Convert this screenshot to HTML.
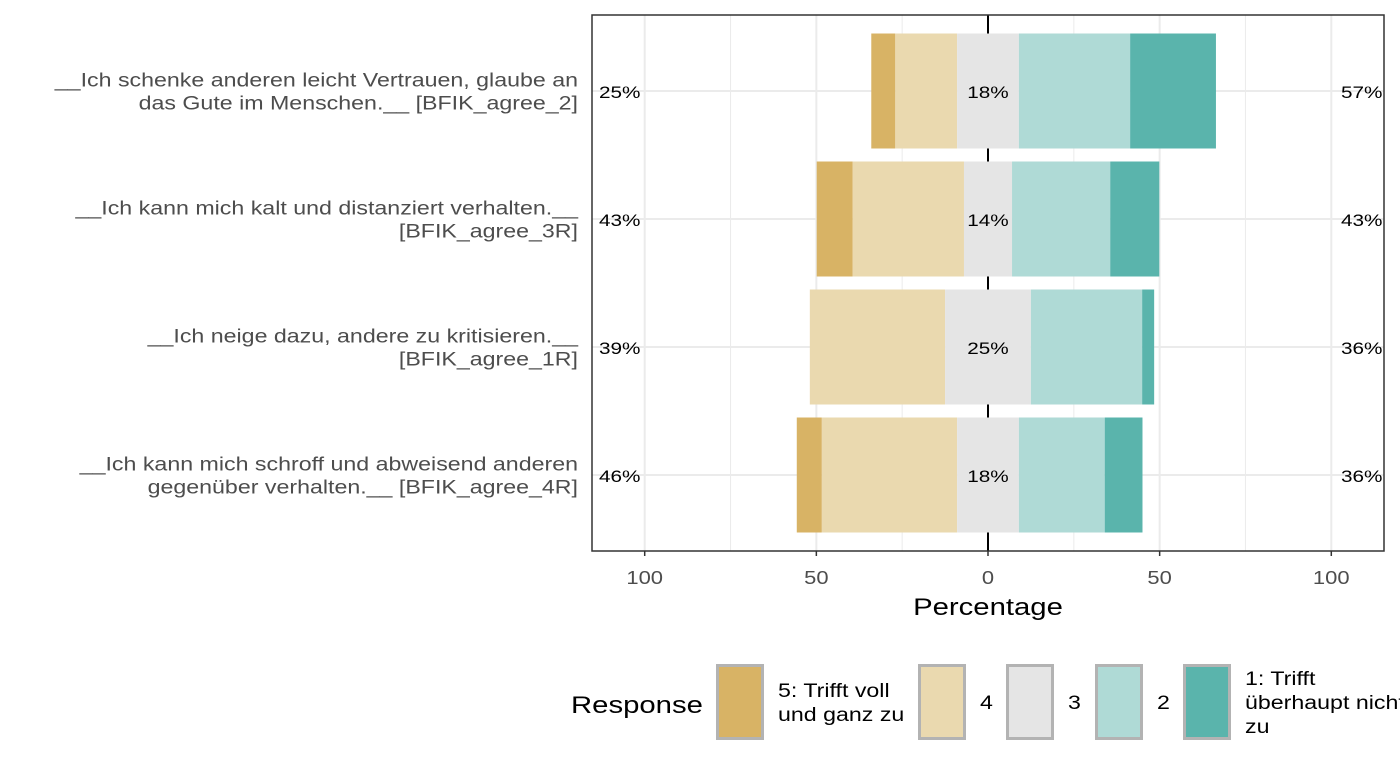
<!DOCTYPE html>
<html><head><meta charset="utf-8"><style>
body{margin:0;background:#fff;width:1400px;height:768px;overflow:hidden;font-family:"Liberation Sans",sans-serif;}
</style></head><body>
<svg id="chart" width="1400" height="768" xmlns="http://www.w3.org/2000/svg" font-family="Liberation Sans, sans-serif">
</svg>
<script>
const items=["__Ich schenke anderen leicht Vertrauen, glaube an|das Gute im Menschen.__ [BFIK_agree_2]",
"__Ich kann mich kalt und distanziert verhalten.__|[BFIK_agree_3R]",
"__Ich neige dazu, andere zu kritisieren.__|[BFIK_agree_1R]",
"__Ich kann mich schroff und abweisend anderen|gegenüber verhalten.__ [BFIK_agree_4R]"];
const r5=[7,10.5,0,7.3];
const r4=[18,32.4,39.4,39.4];
const r3=[18,14,25,18];
const r2=[32.4,28.6,32.4,25];
const r1=[25,14.3,3.5,11];
const leftLabels=["25%","43%","39%","46%"];
const midLabels=["18%","14%","25%","18%"];
const rightLabels=["57%","43%","36%","36%"];
const ticks=[-100,-50,0,50,100];
const tickLabels=["100","50","0","50","100"];
const minor=[-75,-25,25,75];
const colors=["#D8B365","#EAD9AF","#E5E5E5","#AFDAD6","#5AB4AC"];
const legendLabels=["5: Trifft voll|und ganz zu","4","3","2","1: Trifft|überhaupt nicht|zu"];

const svg=document.getElementById('chart');
const NS="http://www.w3.org/2000/svg";
const L=592,R=1384,T=15,B=551;
const x=v=>988+v*3.433;
const yc=i=>91+i*128;
function mk(tag,attrs,parent){const e=document.createElementNS(NS,tag);for(const k in attrs)e.setAttribute(k,attrs[k]);(parent||svg).appendChild(e);return e;}
function txt(s,attrs){const e=mk('text',attrs);e.textContent=s;return e;}

minor.forEach(v=>{const l=mk('line',{x1:x(v),x2:x(v),y1:T,y2:B,stroke:'#ebebeb','stroke-width':1});

});
ticks.forEach(v=>{const l=mk('line',{x1:x(v),x2:x(v),y1:T,y2:B,stroke:'#ebebeb','stroke-width':2});

});
items.forEach((s,i)=>{const l=mk('line',{x1:L,x2:R,y1:yc(i),y2:yc(i),stroke:'#ebebeb','stroke-width':2});

});
const zl=mk('line',{x1:x(0),x2:x(0),y1:T,y2:B,stroke:'#000','stroke-width':2});



items.forEach((s,i)=>{
  const vals=[r5[i],r4[i],r3[i],r2[i],r1[i]];
  let start=-(r5[i]+r4[i]+r3[i]/2);
  vals.forEach((v,k)=>{
    if(v>0){const b=mk('rect',{x:x(start),y:yc(i)-57.5,width:x(start+v)-x(start),height:115,fill:colors[k]});
    
    }
    start+=v;
  });
  const a=txt(leftLabels[i],{x:599,y:yc(i)+7,'font-size':17,fill:'#000'});
  
  
  const m=txt(midLabels[i],{x:x(0),y:yc(i)+7,'font-size':17,fill:'#000','text-anchor':'middle'});
  
  
  const r=txt(rightLabels[i],{x:1341,y:yc(i)+7,'font-size':17,fill:'#000'});
  
  
  const lines=s.split('|');
  lines.forEach((ln,j)=>{const t=txt(ln,{x:578,y:yc(i)+(j-0.5)*23+7,'font-size':19,fill:'#4d4d4d','text-anchor':'end'});
  
  });
});
const fr=mk('rect',{x:L,y:T,width:R-L,height:B-T,fill:'none',stroke:'#333','stroke-width':1.5});


ticks.forEach((v,i)=>{
  const tk=mk('line',{x1:x(v),x2:x(v),y1:B,y2:B+5,stroke:'#333','stroke-width':1.5});
  
  
  const t=txt(tickLabels[i],{x:x(v),y:584,'font-size':18,fill:'#4d4d4d','text-anchor':'middle'});
  
  
});
const xt=txt('Percentage',{x:988,y:615,'font-size':24,fill:'#000','text-anchor':'middle'});


const lt=txt('Response',{x:571,y:713,'font-size':24,fill:'#000'});


const keyX=[716,918,1006,1095,1183];
colors.forEach((c,k)=>{
  const r=mk('rect',{x:keyX[k]+1.5,y:665.5,width:45,height:73,fill:c,stroke:'#b3b3b3','stroke-width':3});
  
  
  const lines=legendLabels[k].split('|');
  lines.forEach((ln,j)=>{const t=txt(ln,{x:keyX[k]+62,y:702+7+(j-(lines.length-1)/2)*24,'font-size':19,fill:'#000'});
  
  });
});
// stretch all text horizontally to match reference font width
svg.querySelectorAll('text').forEach(t=>{
  const len=t.getComputedTextLength();
  if(len>0){t.setAttribute('textLength',(len*1.22).toFixed(1));t.setAttribute('lengthAdjust','spacingAndGlyphs');}
});
</script>
</body></html>
